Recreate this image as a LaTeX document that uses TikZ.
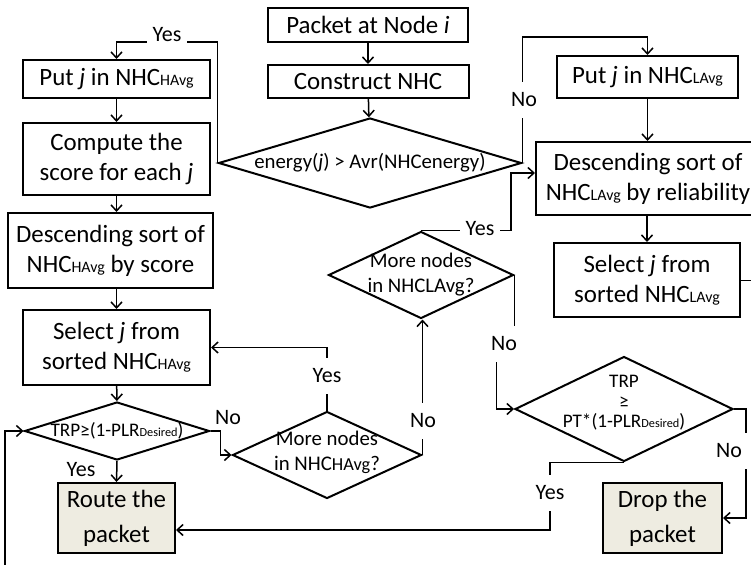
\documentclass[tikz,border=0pt]{standalone}
\usepackage{fontspec}
\setmainfont{Carlito}
\usepackage{graphicx}
\usetikzlibrary{
  shapes.geometric,
  arrows.meta,
  positioning,
  calc
}
\definecolor{PaleStone}{HTML}{EEECE1}
\newcommand{\fcBox}{\fontsize{12.45pt}{15pt}\selectfont}
\newcommand{\fcEnd}{\fontsize{12.45pt}{17.5pt}\selectfont}
\newcommand{\fcDia}{\fontsize{10.4pt}{12.5pt}\selectfont}
\newcommand{\fcTrp}{\fontsize{9.6pt}{10pt}\selectfont}
\newcommand{\fcLbl}{\fontsize{11pt}{13pt}\selectfont}
\newcommand{\lowsub}[1]{\scalebox{0.64}{#1}}
\tikzset{
  % Process box
  proc/.style={
    rectangle, draw, line width=1pt, fill=white,
    align=center, inner sep=0pt, font=\fcBox
  },
  % Final box (route / drop)
  fin/.style={proc, fill=PaleStone, font=\fcEnd},
  % Decision diamond, its text sits in a node of its own
  dec/.style={diamond, draw, line width=1pt, inner sep=0pt},
  dectxt/.style={align=center, inner sep=0pt, font=#1},
  % Arrow
  arr/.style={-{Straight Barb[length=3pt,width=5.5pt]}, line width=0.75pt},
  % Edge label that breaks the line
  lbl/.style={font=\fcLbl, fill=white, inner xsep=3pt, inner ysep=0pt, minimum height=18pt},
  % Edge label beside the line
  lblp/.style={font=\fcLbl, inner sep=0pt}
}
\begin{document}
\begin{tikzpicture}[x=0.5pt, y=-0.5pt]
  \path[use as bounding box] (0,0) rectangle (751,564);
  \clip (0,0) rectangle (751,564);

  % top
  \node[proc, minimum width=100pt,   minimum height=17pt]   (packet) at (368,25)    {Packet at Node \textit{i}};
  \node[proc, minimum width=100.5pt, minimum height=16.5pt] (constr) at (368,81.5)  {Construct NHC};
  \node[dec,  minimum width=151.5pt, minimum height=45pt]   (energy) at (370,163)   {};
  \node[dectxt=\fcDia] (energyT) at (energy) {energy(\textit{j}) > Avr(NHCenergy)};

  % left column
  \node[proc, minimum width=93.5pt,  minimum height=19pt]   (putH)   at (116.5,79)    {Put \textit{j} in NHC\lowsub{HAvg}};
  \node[proc, minimum width=93.5pt,  minimum height=36pt]   (compH)  at (116.5,159)   {Compute the\\score for each \textit{j}};
  \node[proc, minimum width=102.5pt, minimum height=37.5pt] (sortH)  at (110.5,250.5) {Descending sort of\\NHC\lowsub{HAvg} by score};
  \node[proc, minimum width=93.5pt,  minimum height=37.5pt] (selH)   at (116.5,347.5) {Select \textit{j} from\\sorted NHC\lowsub{HAvg}};
  \node[dec,  minimum width=92.5pt,  minimum height=29pt]   (trp1)   at (117,431)     {};
  \node[dectxt=\fcTrp] (trp1T) at (trp1) {TRP≥(1-PLR\lowsub{Desired})};
  \node[fin,  minimum width=58.5pt,  minimum height=35pt]   (route)  at (116.5,518)   {Route the\\packet};

  % middle
  \node[dec, minimum width=92.5pt, minimum height=43.5pt] (moreL) at (421,275) {};
  \node[dectxt=\fcDia] (moreLT) at (moreL) {More nodes\\in NHCLAvg?};
  \node[dec, minimum width=94.5pt, minimum height=43.5pt] (moreH) at (327,455) {};
  \node[dectxt=\fcDia] (moreHT) at ([yshift=1.5pt]moreH) {More nodes\\in NHC\scalebox{0.88}{HAvg}?};

  % right column
  \node[proc, minimum width=90.5pt, minimum height=21pt]   (putL)  at (647.5,77)  {Put \textit{j} in NHC\lowsub{LAvg}};
  \node[proc, minimum width=112pt,  minimum height=36.5pt] (sortL) at (648,178.5) {Descending sort of\\NHC\lowsub{LAvg} by reliability};
  \node[proc, minimum width=93pt,   minimum height=37pt]   (selL)  at (647,280)   {Select \textit{j} from\\sorted NHC\lowsub{LAvg}};
  \node[dec,  minimum width=109pt,  minimum height=52.5pt] (trp2)  at (624,409)   {};
  \node[dectxt=\fcTrp] (trp2T) at ([yshift=3pt]trp2) {TRP\\≥\\PT*(1-PLR\lowsub{Desired})};
  \node[fin,  minimum width=59.5pt, minimum height=35pt]   (drop)  at (662.5,518) {Drop the\\packet};

  % loose ends at the picture's edge
  \coordinate (offR) at (770,282);
  \coordinate (offB) at (5,575);

  % connectors
  \draw[arr] (packet) -- (constr);
  \draw[arr] (constr) -- (energy);
  \draw[arr] (energy.west) -- ++(0,-121) -| (putH.north);
  \draw[arr] (energy.east) -- ++(0,-126) -| (putL.north);
  \draw[arr] (putH) -- (compH);
  \draw[arr] (compH) -- (compH |- sortH.north);
  \draw[arr] (selH.north |- sortH.south) -- (selH.north);
  \draw[arr] (selH) -- (trp1);
  \draw[arr] (trp1.south) -- (route.north);
  \draw[arr] (trp1.east) -- ++(10,0) |- (moreH.west);
  \draw[arr] (moreH.north) |- (selH.east);
  \draw[arr] (moreH.east) -- (moreH.east |- moreL.south);
  \draw[arr] (moreL.north) -- ++(90,0) |- ([yshift=2.75pt]sortL.west);
  \draw[arr] (moreL.east) -- ++(0,70) -- ++(-18,0) |- (trp2.west);
  \draw[arr] (putL) -- (putL |- sortL.north);
  \draw[arr] (selL.north |- sortL.south) -- (selL.north);
  \draw      (selL.east) -- (selL.east -| offR);
  \draw[arr] (trp2.south) -- ++(-74,0) |- ([yshift=-6pt]route.east);
  \draw[arr] (trp2.east) -- ++(12,0) |- (drop.east);
  \draw[arr] (offB) |- (trp1.west);

  % labels
  \node[lbl] (yesE)  at (167,35)  {Yes};
  \node[lbl] (noE)   at (524,100) {No};
  \node[lbl, minimum height=12pt] (yesML) at (480,229) {Yes};
  \node[lbl] (noML)  at (504,344) {No};
  \node[lbl] (yesMH) at (327,376) {Yes};
  \node[lbl] (noMH)  at (423,421) {No};
  \node[lbl] (yesT2) at (550,493) {Yes};
  \node[lbl, inner xsep=5pt] (noT2) at (729,451) {No};
  \node[lblp] (noT1)  at (228,418) {No};
  \node[lblp] (yesT1) at (81,470)  {Yes};
\end{tikzpicture}
\end{document}
